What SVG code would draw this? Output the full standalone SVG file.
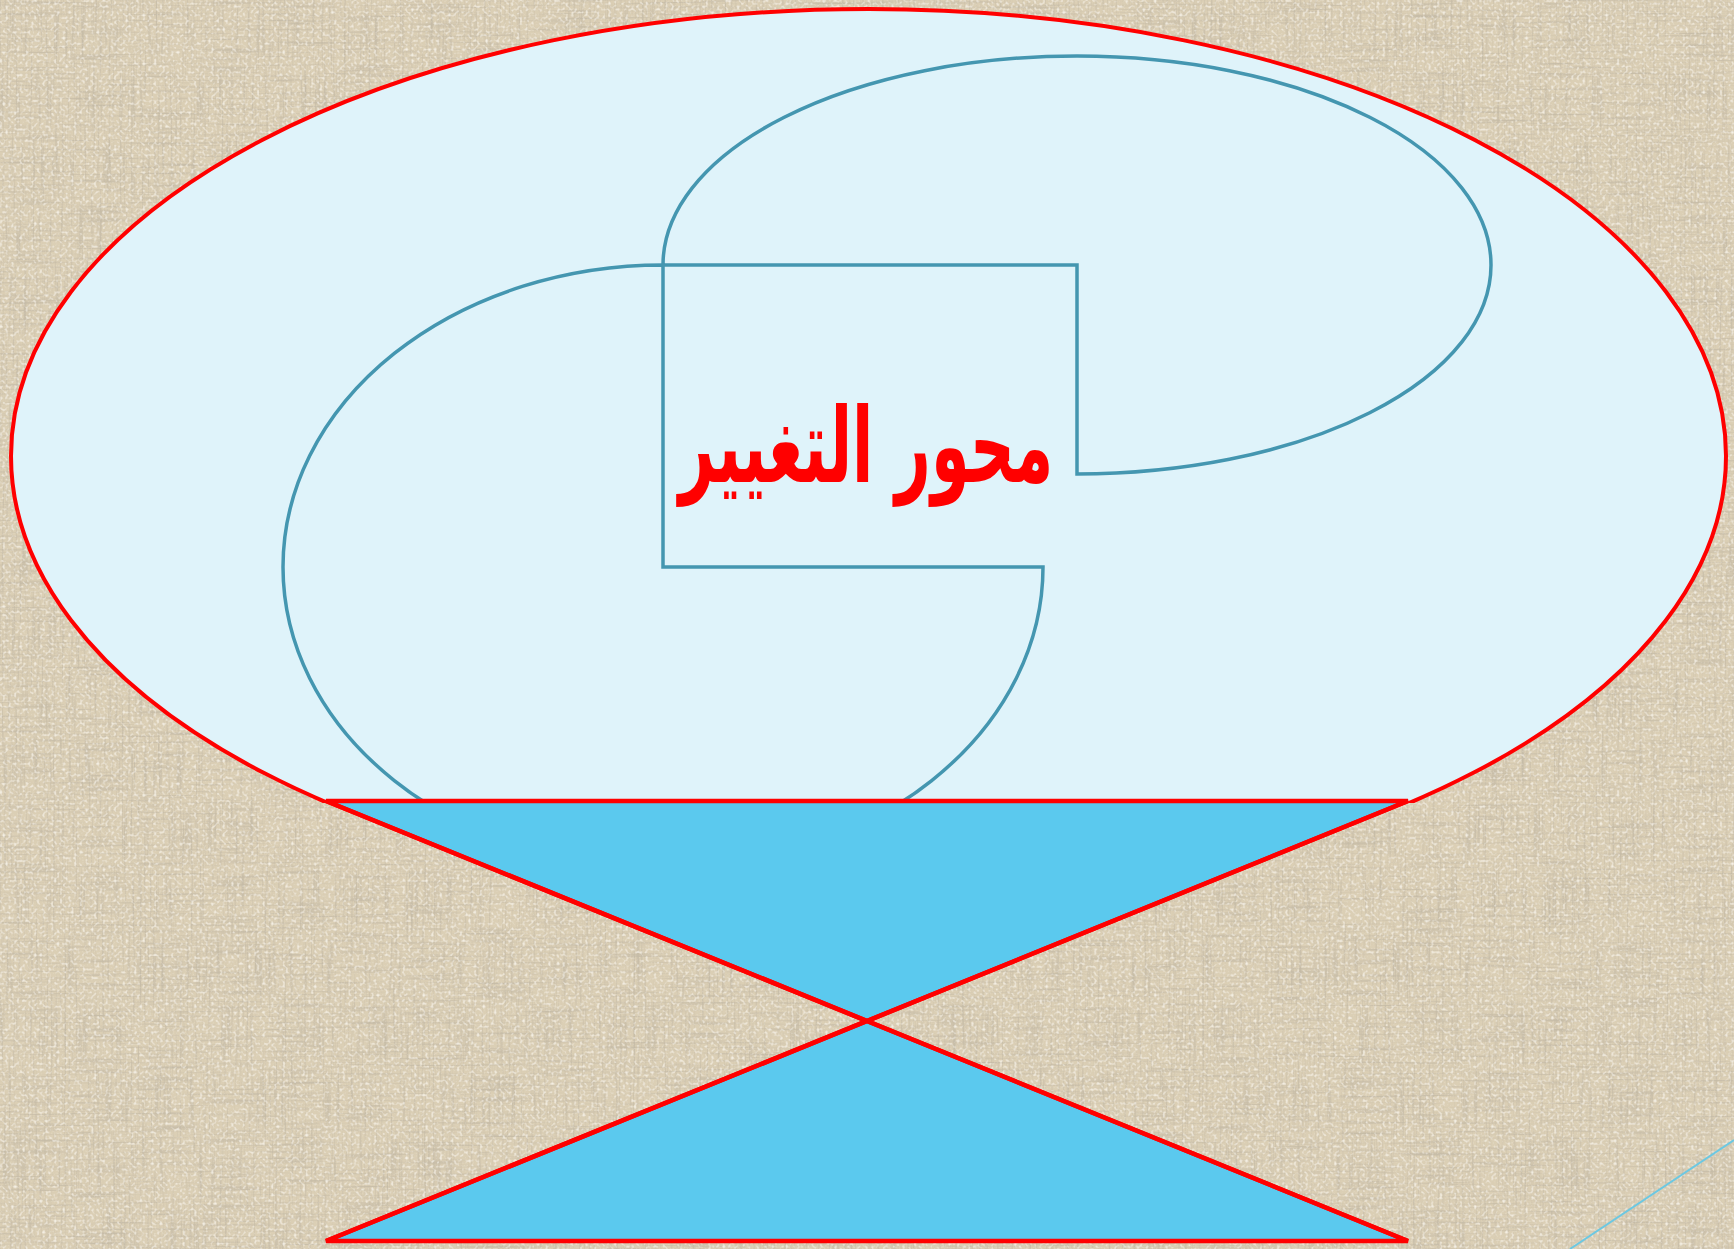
<svg xmlns="http://www.w3.org/2000/svg" width="1734" height="1249" viewBox="0 0 1734 1249">
  <style>
    .outer { fill: #DFF3FA; stroke: #FF0000; stroke-width: 4; }
    .inner { fill: #DFF3FA; stroke: #4496B0; stroke-width: 3.5; stroke-linejoin: miter; }
    .glass { fill: #5BC9EE; stroke: #FF0000; stroke-width: 4.5; stroke-linejoin: miter; }
    .label { font-family: "DejaVu Sans", "Noto Sans", sans-serif; font-weight: bold; font-size: 102px; fill: #FF0000; }
  </style>
  <defs>
    <filter id="linen" x="0" y="0" width="100%" height="100%" filterUnits="userSpaceOnUse">
      <feTurbulence type="fractalNoise" baseFrequency="0.015 0.45" numOctaves="2" seed="3" result="h"/>
      <feColorMatrix in="h" type="matrix" values="0 0 0 0 0.55  0 0 0 0 0.49  0 0 0 0 0.38  2.2 0 0 0 -1.05" result="hDark"/>
      <feTurbulence type="fractalNoise" baseFrequency="0.45 0.015" numOctaves="2" seed="11" result="v"/>
      <feColorMatrix in="v" type="matrix" values="0 0 0 0 0.55  0 0 0 0 0.49  0 0 0 0 0.38  2.2 0 0 0 -1.05" result="vDark"/>
      <feTurbulence type="fractalNoise" baseFrequency="0.35 0.35" numOctaves="1" seed="21" result="l"/>
      <feColorMatrix in="l" type="matrix" values="0 0 0 0 0.96  0 0 0 0 0.93  0 0 0 0 0.86  2.4 0 0 0 -1.2" result="light"/>
      <feFlood flood-color="#DBCFB5" result="base"/>
      <feMerge>
        <feMergeNode in="base"/>
        <feMergeNode in="hDark"/>
        <feMergeNode in="vDark"/>
        <feMergeNode in="light"/>
      </feMerge>
    </filter>
    <clipPath id="aboveGlass">
      <rect x="0" y="0" width="1734" height="803"/>
    </clipPath>
  </defs>

  <rect id="background" x="0" y="0" width="1734" height="1249" fill="#DBCFB5" filter="url(#linen)"/>
  <line x1="1570" y1="1249" x2="1734" y2="1140" stroke="#6CC8E2" stroke-width="2"/>

  <g id="outer-ellipse" clip-path="url(#aboveGlass)">
    <ellipse class="outer" cx="868.5" cy="456" rx="857.5" ry="447"/>
  </g>

  <g id="upper-curl" clip-path="url(#aboveGlass)">
    <path class="inner" d="M663,265 A414,209 0 1 1 1077,474 L1077,265 Z"/>
  </g>
  <g id="lower-curl" clip-path="url(#aboveGlass)">
    <path class="inner" d="M663,265 A380,302 0 1 0 1043,567 L663,567 Z"/>
  </g>

  <g id="hourglass">
    <polygon class="glass" points="326,801 1408,801 867,1021"/>
    <polygon class="glass" points="867,1021 1408,1241 326,1241"/>
    <path d="M326,801 L1408,1241 M1408,801 L326,1241" fill="none" stroke="#FF0000" stroke-width="4.5"/>
  </g>

  <g id="title">
    <text class="label" transform="translate(866,482) scale(0.61,1.02)" x="0" y="0" text-anchor="middle" direction="rtl">محور التغيير</text>
  </g>
</svg>
